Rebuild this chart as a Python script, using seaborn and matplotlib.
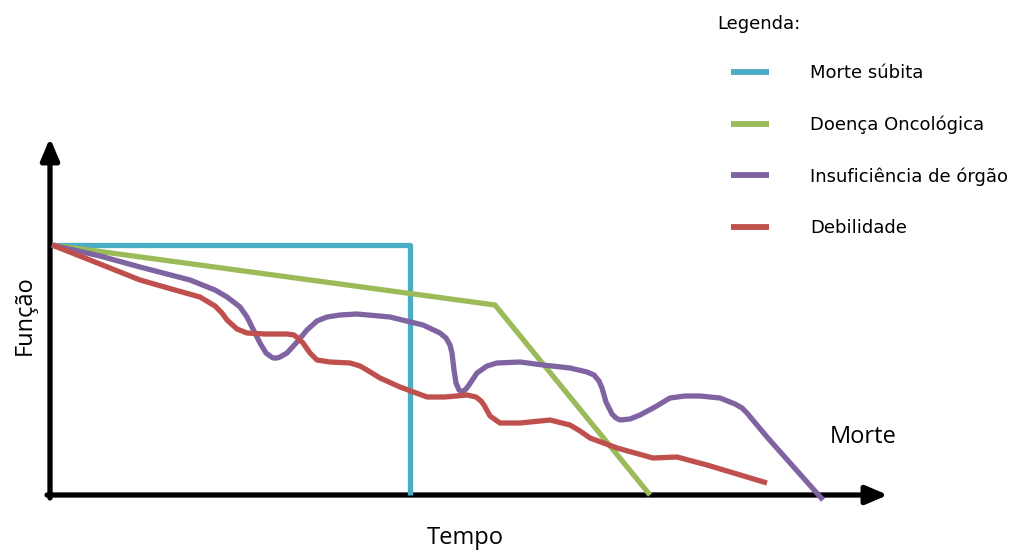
import pandas as pd
import matplotlib.pyplot as plt
import seaborn as sns

# schematic units: x = tempo, y = função (origin at the axis corner)
morte_x = [2, 360, 360]
morte_y = [250, 250, 0]

onco_x = [2, 445, 600]
onco_y = [250, 190, 0]

insuf_x = [2, 50, 90, 140, 165, 177, 185, 190, 197, 205, 210, 216, 220, 223, 227, 230, 237,
           247, 257, 267, 277, 290, 307, 340, 373, 390, 396, 400, 402, 404, 406, 409, 412,
           416, 419, 427, 437, 447, 470, 493, 520, 537, 544, 549, 552, 556, 562, 566, 570,
           580, 590, 605, 620, 635, 650, 670, 685, 692, 697, 707, 717, 773]
insuf_y = [250, 239, 228, 215, 205, 198, 192, 188, 178, 162, 152, 142, 139, 137, 137, 138, 142,
           153, 165, 174, 178, 180, 181, 178, 170, 162, 157, 150, 142, 125, 112, 105, 103,
           106, 110, 122, 129, 132, 133, 130, 127, 123, 120, 114, 107, 93, 81, 77, 75,
           76, 80, 88, 97, 99, 99, 97, 91, 87, 82, 70, 58, -5]

debil_x = [2, 50, 90, 125, 150, 165, 172, 177, 187, 197, 215, 237, 244, 249, 253, 260, 267, 280,
           300, 310, 317, 330, 350, 377, 395, 417, 426, 431, 434, 440, 450, 470, 500, 520, 530,
           540, 567, 603, 627, 657, 717]
debil_y = [250, 231, 215, 205, 198, 189, 182, 175, 166, 162, 161, 161, 160, 156, 152, 142, 135,
           133, 132, 129, 125, 117, 108, 98, 98, 100, 98, 94, 90, 79, 72, 72, 75, 70, 64,
           57, 47, 37, 38, 30, 12]

series = ["Morte súbita", "Doença Oncológica", "Insuficiência de órgão", "Debilidade"]
colors = ["#4BACC6", "#9BBB59", "#8064A2", "#C0504D"]


def main():
    sns.set_style("white")
    plt.rcParams["font.family"] = ["DejaVu Sans"]
    plt.rcParams["text.color"] = "black"

    frames = []
    for name, xs, ys in zip(series, [morte_x, onco_x, insuf_x, debil_x],
                            [morte_y, onco_y, insuf_y, debil_y]):
        frames.append(pd.DataFrame({"tempo": xs, "funcao": ys, "serie": name}))
    df = pd.concat(frames, ignore_index=True)

    fig = plt.figure(figsize=(10.24, 5.5), dpi=100)
    ax = fig.add_axes([0, 0, 1, 1])

    # axes arrows
    ax.annotate("", xy=(0, 357), xytext=(0, -3),
                arrowprops=dict(arrowstyle="-|>,head_length=1.3,head_width=0.55",
                                color="black", lw=3.8, shrinkA=0, shrinkB=0), zorder=1)
    ax.annotate("", xy=(838, 0), xytext=(-3, 0),
                arrowprops=dict(arrowstyle="-|>,head_length=1.3,head_width=0.55",
                                color="black", lw=3.8, shrinkA=0, shrinkB=0), zorder=1)

    sns.lineplot(data=df, x="tempo", y="funcao", hue="serie", hue_order=series,
                 palette=dict(zip(series, colors)), sort=False, estimator=None,
                 units="serie", linewidth=3.8, ax=ax, zorder=3)
    for line in ax.get_lines():
        line.set_solid_joinstyle("round")
        line.set_solid_capstyle("butt")

    ax.set_xlim(-50, 974)
    ax.set_ylim(-55, 495)
    ax.set_axis_off()

    label_font = ["Open Sans", "DejaVu Sans"]
    ax.text(-25, 180, "Função", rotation=90, ha="center", va="center", fontsize=17,
            family=label_font)
    ax.text(415, -43, "Tempo", ha="center", va="center", fontsize=17, family=label_font)
    ax.text(780, 58, "Morte", ha="left", va="center", fontsize=17, family=label_font)

    fig.text(717 / 1024, 1 - 24 / 550, "Legenda:", ha="left", va="center", fontsize=13)
    sns.move_legend(ax, "upper left", bbox_to_anchor=(731 / 1024, 1 - 64 / 550),
                    title=None, frameon=False, fontsize=13,
                    handlelength=2.1, handletextpad=2.3, labelspacing=1.85,
                    borderpad=0, borderaxespad=0)
    for line in ax.get_legend().get_lines():
        line.set_linewidth(4.2)
        line.set_solid_capstyle("butt")

    fig.savefig("out.png", dpi=100)
    plt.close(fig)


if __name__ == "__main__":
    main()
